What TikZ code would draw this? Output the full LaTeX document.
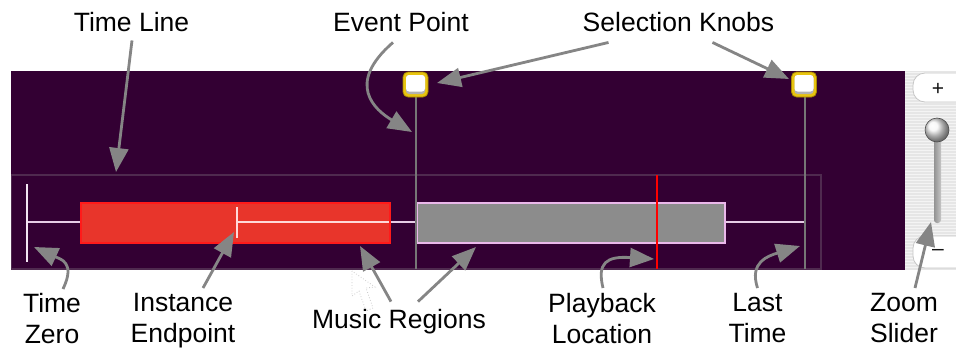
\documentclass[tikz,border=0pt]{standalone}
\usepackage{fontspec}
\setmainfont{Liberation Sans}
\usetikzlibrary{arrows.meta,calc}

\definecolor{panelbg}{HTML}{330033}
\definecolor{framecol}{HTML}{4F2A4F}
\definecolor{lanecol}{HTML}{E6CCE6}
\definecolor{regionred}{HTML}{E8352B}
\definecolor{regionredline}{HTML}{FF1A1A}
\definecolor{regiongray}{HTML}{8C8C8C}
\definecolor{regionpink}{HTML}{EBB8EB}
\definecolor{calloutgray}{HTML}{858585}
\definecolor{knobgold}{HTML}{E8C410}
\definecolor{knobedge}{HTML}{A88A00}
\definecolor{sliderbg}{HTML}{E6E6E6}
\definecolor{eventline}{HTML}{767676}

\begin{document}
\begin{tikzpicture}[x=1pt,y=-1pt,
  lbl/.style={font=\fontsize{26.5}{31}\selectfont, inner sep=0pt, align=center, text=black},
  callout/.style={draw=calloutgray, line width=2.8pt, -{Triangle[length=24pt,width=19pt]}},
  btnlbl/.style={font=\fontsize{21}{21}\selectfont, text=gray!15!black, inner sep=0pt}]

% page
\useasboundingbox (0,0) rectangle (956,348);
\fill[white] (0,0) rectangle (956,348);

% editor panel
\fill[panelbg] (11,71) rectangle (905,270);
\draw[framecol, line width=1.2pt] (11.6,175) rectangle (821,269);

% time line and time zero tick
\draw[lanecol, line width=2pt] (27,222) -- (805,222);
\draw[lanecol!50!white, line width=2pt] (27,184) -- (27,262);

% music region with instance endpoint
\filldraw[fill=regionred, draw=regionredline, line width=1.5pt] (81,203) rectangle (390,243);
\draw[white!85!red, line width=2pt] (237,222) -- (389,222);
\draw[white!85!red, line width=2pt] (237,207) -- (237,238);

% second music region
\filldraw[fill=regiongray, draw=regionpink, line width=1.8pt] (417,203) rectangle (725,243);

% event lines under the selection knobs
\draw[eventline, line width=1.5pt] (416,97) -- (416,269);
\draw[eventline, line width=1.5pt] (805,97) -- (805,269);

% playback location
\draw[red, line width=1.5pt] (657,175) -- (657,269);

% selection knobs
\foreach \kx in {415.5,804} {
  \filldraw[fill=knobgold, draw=knobedge, line width=0.8pt, rounded corners=5pt]
    (\kx-12.5,72) rectangle (\kx+12.5,97);
  \fill[gray!60, rounded corners=3pt] (\kx-9.5,75) rectangle (\kx+9.5,94);
  \fill[white, rounded corners=3pt] (\kx-9.5,75) rectangle (\kx+9.5,91.5);
}

% zoom slider
\begin{scope}
  \clip (905,71) rectangle (956,270);
  \fill[sliderbg] (905,71) rectangle (956,270);
  \foreach \s in {72,75,...,269} \draw[white!55!sliderbg, line width=1pt] (905,\s) -- (956,\s);
  \filldraw[fill=white, draw=gray!45, line width=0.8pt, rounded corners=12pt] (913,73) rectangle (980,102);
  \filldraw[fill=white, draw=gray!45, line width=0.8pt, rounded corners=12pt] (913,236) rectangle (980,268);
\end{scope}
\node[btnlbl] (zoomin) at (938,89) {+};
\node[btnlbl] (zoomout) at (938,252) {–};
\shade[left color=gray!85, right color=gray!45, rounded corners=3pt] (934,136) rectangle (941,223);
\draw[gray!60!black, line width=0.6pt, shading=ball, ball color=gray!8] (937,130) circle (12pt);

% faint pointer left on screen
\filldraw[draw=gray!40, fill=white, fill opacity=0.3, dotted, line width=0.8pt]
  (352,271) -- (352,296) -- (359,291) -- (366,311) -- (373,308) -- (366,288) -- (375,287) -- cycle;

% labels
\node[lbl, anchor=base] (tl) at (131.5,31) {Time Line};
\node[lbl, anchor=base] (ep) at (401,31) {Event Point};
\node[lbl, anchor=base] (sk) at (678.5,31) {Selection Knobs};
\node[lbl, anchor=north] (tz) at (52,293) {Time\\Zero};
\node[lbl, anchor=north] (ie) at (183,293) {Instance\\Endpoint};
\node[lbl, anchor=base] (mr) at (399,328) {Music Regions};
\node[lbl, anchor=north] (pl) at (602,293) {Playback\\Location};
\node[lbl, anchor=north] (lt) at (757.5,293) {Last\\Time};
\node[lbl, anchor=north] (zs) at (904,293) {Zoom\\Slider};

% callout tips
\coordinate (tlTip) at (116,172);
\coordinate (epTip) at (412,132);
\coordinate (skTipA) at (437,83);
\coordinate (skTipB) at (789,79);
\coordinate (tzTip) at (34,247);
\coordinate (ieTip) at (234,232);
\coordinate (mrTipA) at (360,246);
\coordinate (mrTipB) at (476,247);
\coordinate (plTip) at (654,259);
\coordinate (ltTip) at (800,246);
\coordinate (zsTip) at (931,222);

% callouts
\draw[callout] ([xshift=0.5pt,yshift=-9pt]tl.south) -- (tlTip);
\draw[callout] ([xshift=-8pt,yshift=-11pt]ep.south) .. controls (345,84) and (375,110) .. (epTip);
\draw[callout] ([xshift=-70pt,yshift=-11pt]sk.south) -- (skTipA);
\draw[callout] ([xshift=34pt,yshift=-11pt]sk.south) -- (skTipB);
\draw[callout] ([xshift=11pt,yshift=4pt]tz.north) .. controls (76,262) and (60,259) .. (tzTip);
\draw[callout] ([xshift=20pt,yshift=5pt]ie.north) -- (ieTip);
\draw[callout] ([xshift=-8pt,yshift=7pt]mr.north) -- (mrTipA);
\draw[callout] ([xshift=19pt,yshift=7pt]mr.north) -- (mrTipB);
\draw[callout] ([xshift=1pt,yshift=5pt]pl.north) .. controls (597,263) and (606,256) .. (plTip);
\draw[callout] ([yshift=5pt]lt.north) .. controls (749,262) and (768,256) .. (ltTip);
\draw[callout] ([xshift=11pt,yshift=5pt]zs.north) -- (zsTip);

\end{tikzpicture}
\end{document}
